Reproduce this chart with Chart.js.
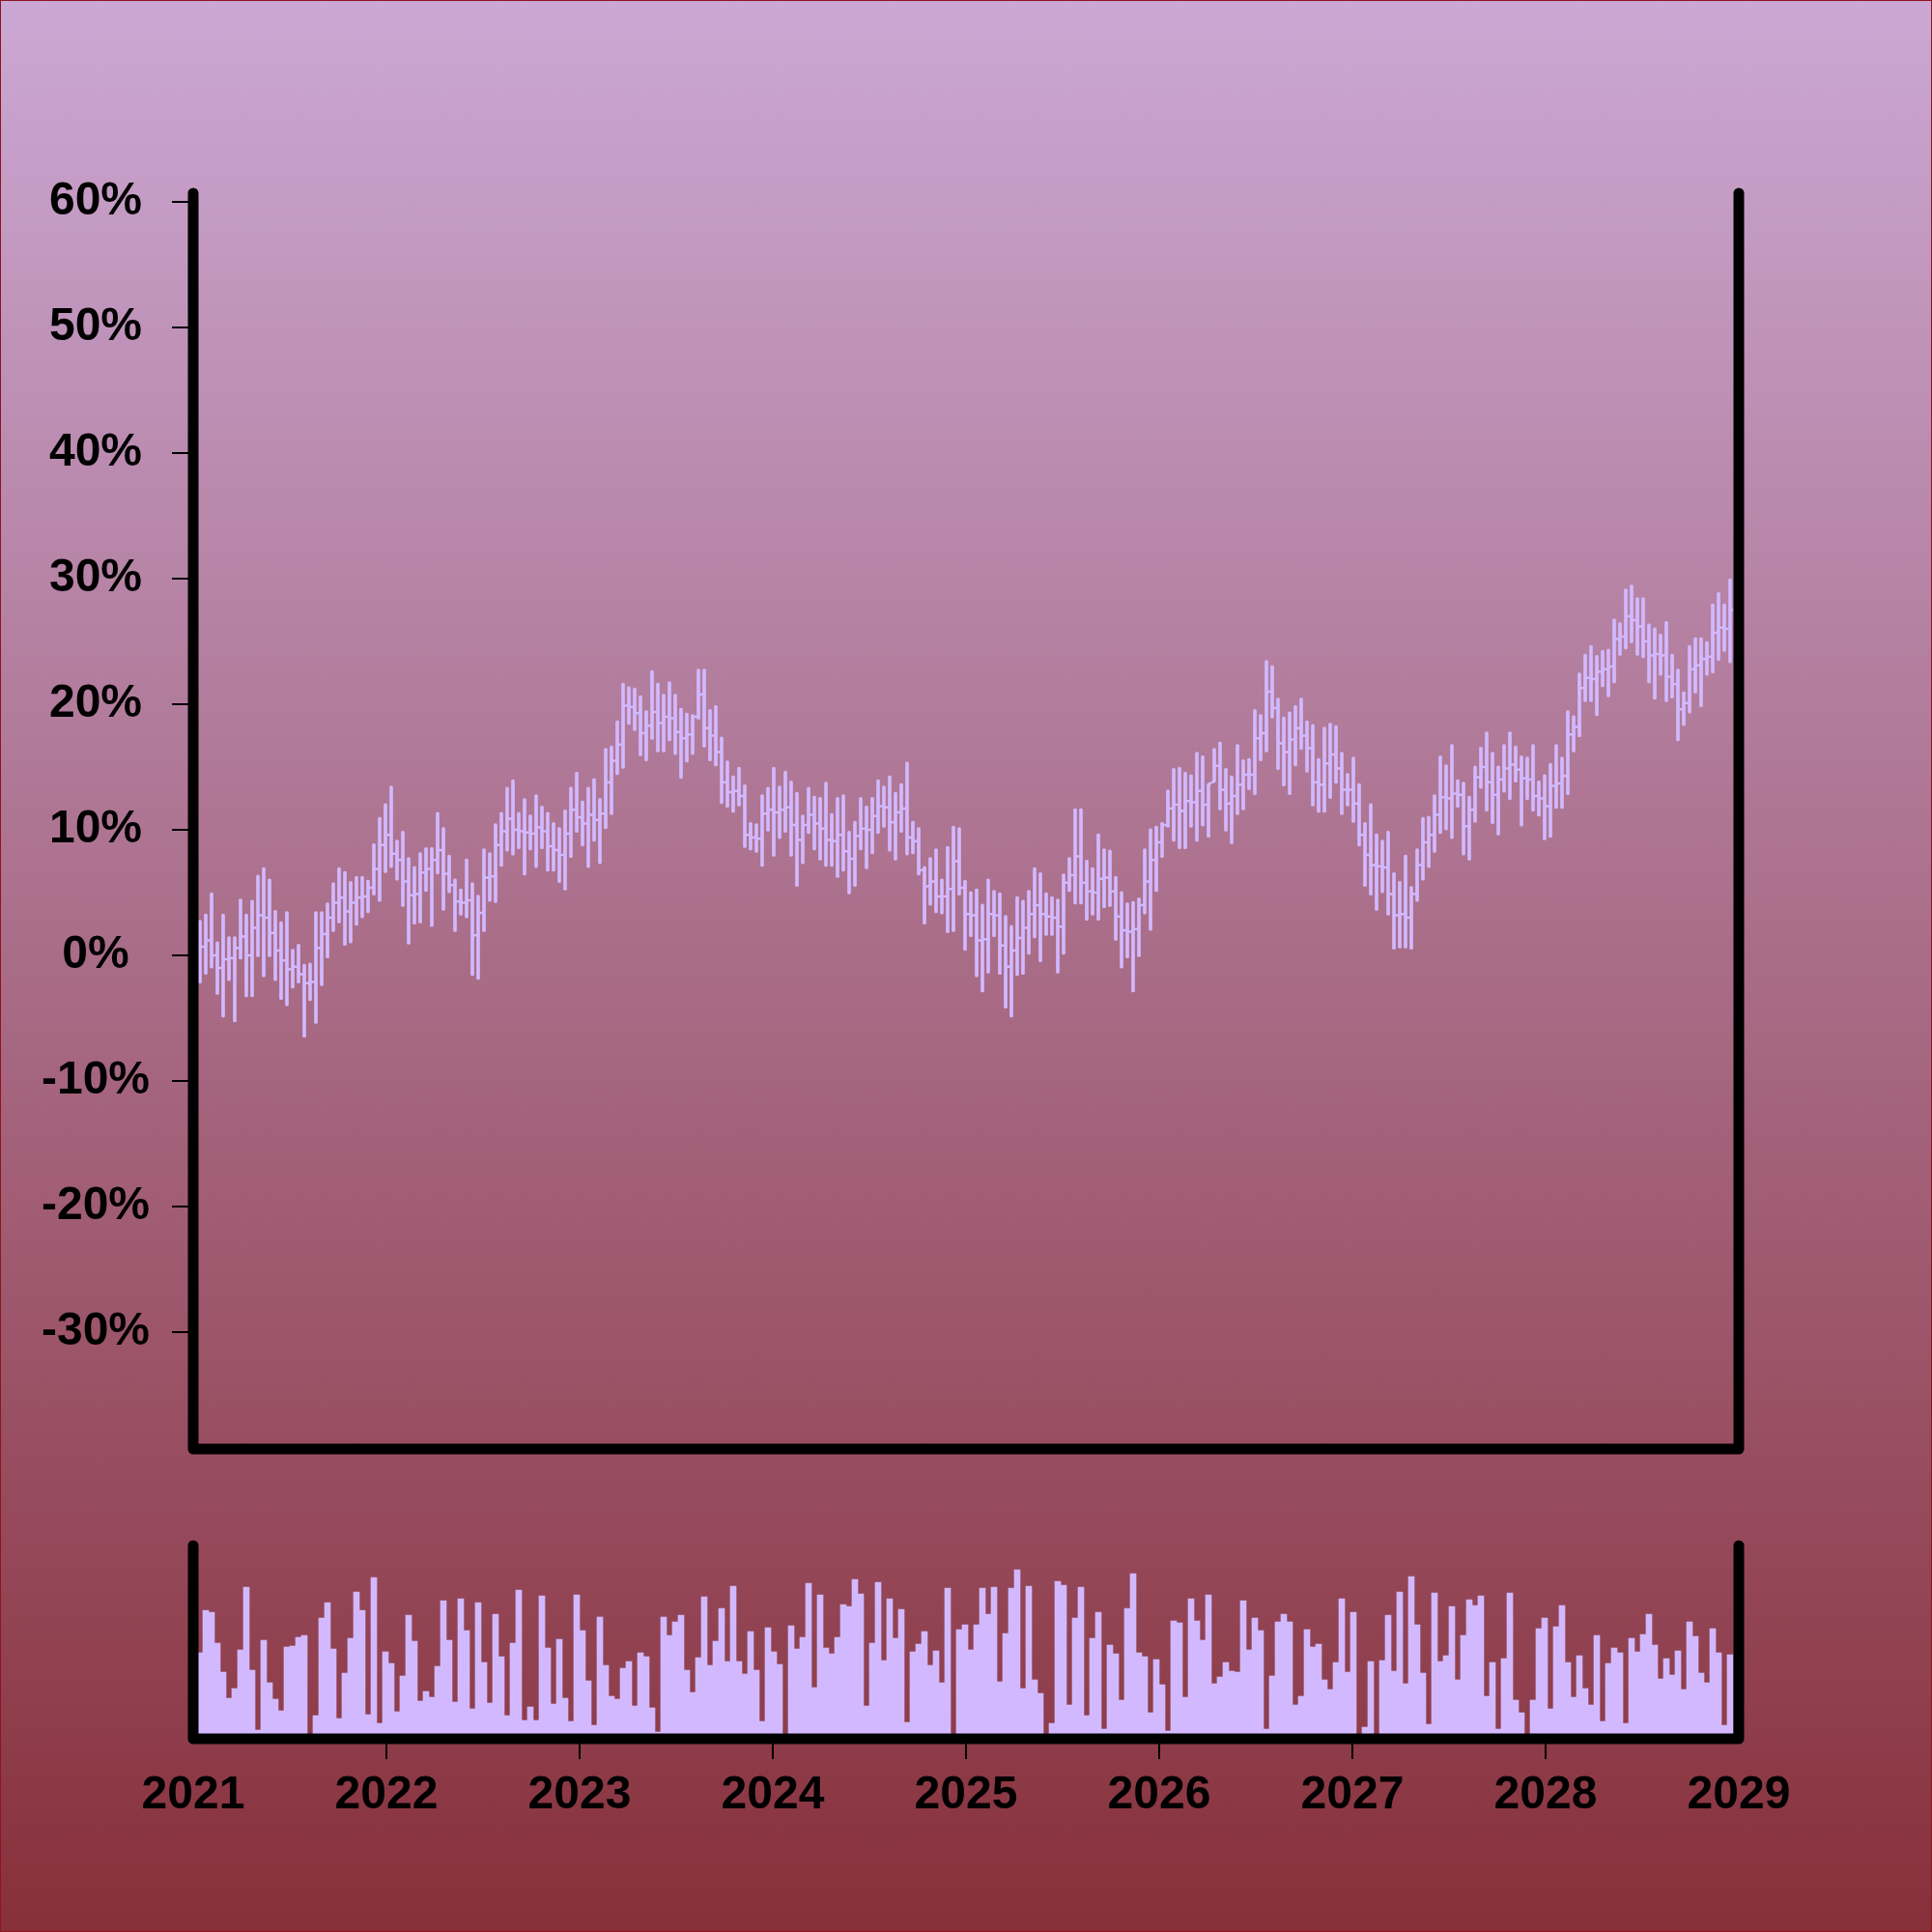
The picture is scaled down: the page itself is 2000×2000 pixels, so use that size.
<!DOCTYPE html>
<html>
<head>
<meta charset="utf-8">
<script src="https://cdn.jsdelivr.net/npm/chart.js@4.4.1/dist/chart.umd.min.js"></script>
<style>
  html, body { margin: 0; padding: 0; }
  #page {
    position: relative;
    width: 2000px;
    height: 2000px;
    overflow: hidden;
    background: linear-gradient(to bottom, #cba8d4 0%, #87303a 100%);
    box-shadow: inset 0 0 0 1px #8e1420;
  }
  #priceChart { position: absolute; left: 0; top: 0; }
  #volumeChart { position: absolute; left: 0; top: 1500px; }
</style>
</head>
<body>
<div id="page">
  <canvas id="priceChart" width="2000" height="1560"></canvas>
  <canvas id="volumeChart" width="2000" height="500"></canvas>
</div>
<script>
// sample dates: one bar every 0.03 year starting early 2021
const startYear = 2021.035;
const stepYears = 0.03;

const yearTicks = [2021, 2022, 2023, 2024, 2025, 2026, 2027, 2028, 2029];
const pctTicks = [-30, -20, -10, 0, 10, 20, 30, 40, 50, 60];

// OHLC values in %
const openVals = [
  0.5, 0.7, 1.2, 0.0, -1.0, -0.3, -0.2, 0.6, 1.5, 0.0,
  2.2, 3.2, 3.0, 1.8, 0.4, -0.4, -1.1, -0.9, -1.5, -2.2,
  -2.1, 0.6, 1.7, 3.0, 4.2, 4.6, 3.5, 4.2, 4.6, 4.7,
  5.4, 6.9, 8.8, 9.6, 8.1, 7.6, 5.9, 4.8, 4.9, 6.6,
  6.9, 7.6, 8.4, 6.5, 5.6, 4.3, 4.2, 4.4, 1.6, 3.4,
  6.2, 6.3, 8.8, 9.9, 10.9, 10.0, 9.9, 9.8, 9.7, 10.2,
  9.9, 8.7, 8.4, 8.0, 9.7, 11.6, 11.0, 10.5, 11.2, 10.8,
  11.3, 13.8, 15.5, 16.8, 19.9, 19.8, 19.3, 17.7, 18.3, 19.4,
  18.5, 19.0, 18.9, 17.8, 17.3, 17.6, 19.0, 20.8, 18.1, 17.5,
  16.2, 13.8, 13.0, 13.1, 12.7, 9.6, 9.4, 9.3, 11.3, 11.6,
  11.4, 11.6, 11.8, 10.4, 9.2, 10.4, 11.2, 10.5, 10.1, 9.2,
  9.1, 9.6, 8.3, 7.7, 9.5, 10.1, 10.0, 11.1, 11.9, 11.8,
  10.6, 11.4, 11.7, 9.4, 9.1, 6.8, 5.5, 5.9, 4.7, 4.7,
  5.3, 7.5, 5.4, 3.3, 3.2, 1.2, 1.3, 3.3, 3.2, 0.8,
  -0.9, 0.4, 1.4, 2.2, 3.3, 4.0, 3.3, 3.1, 3.0, 2.3,
  5.8, 6.4, 7.9, 5.8, 5.1, 5.0, 6.1, 6.2, 5.1, 3.1,
  2.0, 1.9, 2.1, 4.0, 5.9, 7.6, 9.0, 10.4, 11.7, 12.0,
  11.5, 12.3, 12.2, 13.1, 12.0, 13.8, 15.1, 13.2, 12.1, 12.7,
  13.6, 14.4, 14.4, 17.3, 17.7, 21.0, 19.7, 16.9, 16.2, 17.2,
  18.1, 17.5, 16.5, 13.8, 13.6, 15.3, 16.0, 14.9, 13.2, 13.2,
  12.1, 9.6, 8.0, 7.2, 7.1, 7.0, 4.9, 3.2, 3.3, 3.0,
  4.9, 7.2, 9.0, 9.6, 11.2, 12.6, 12.5, 12.9, 12.8, 10.3,
  11.6, 14.2, 15.0, 13.8, 12.8, 14.0, 14.9, 15.2, 14.8, 14.1,
  14.0, 12.7, 12.5, 11.9, 13.5, 13.7, 14.3, 17.6, 18.2, 21.3,
  22.1, 22.0, 22.6, 22.8, 23.0, 25.2, 25.4, 27.0, 26.7, 26.2,
  25.0, 23.9, 24.0, 23.9, 22.2, 21.6, 19.6, 20.1, 22.8, 23.1,
  23.6, 23.8, 25.7, 26.1, 26.0
];
const highVals = [
  2.8, 3.3, 5.0, 1.1, 3.3, 1.5, 1.5, 4.5, 3.3, 4.4,
  6.4, 7.0, 6.1, 3.6, 2.7, 3.5, 0.5, 0.9, -0.7, -0.6,
  3.5, 3.5, 4.2, 5.8, 7.0, 6.7, 5.9, 6.3, 6.3, 6.0,
  8.9, 11.0, 12.1, 13.5, 9.2, 9.9, 7.8, 7.1, 8.2, 8.6,
  8.6, 11.4, 10.2, 8.0, 6.1, 5.3, 7.7, 5.8, 4.8, 8.5,
  8.2, 10.5, 11.4, 13.4, 14.0, 11.4, 12.5, 11.2, 12.8, 11.9,
  11.4, 10.6, 10.2, 11.6, 13.4, 14.6, 12.3, 13.4, 14.1, 12.5,
  16.5, 16.7, 18.7, 21.7, 21.4, 21.3, 20.7, 19.5, 22.7, 21.7,
  20.8, 21.8, 20.8, 19.7, 19.3, 19.2, 22.8, 22.8, 19.6, 19.9,
  17.4, 15.5, 14.3, 15.0, 13.6, 10.6, 10.5, 12.8, 13.4, 15.0,
  13.5, 14.7, 13.9, 13.0, 11.2, 13.4, 12.7, 12.6, 13.8, 11.3,
  12.6, 12.8, 9.9, 10.7, 12.6, 11.9, 12.6, 14.0, 13.5, 14.3,
  13.0, 13.7, 15.4, 10.7, 10.2, 7.1, 7.8, 8.5, 6.1, 8.7,
  10.3, 10.2, 6.0, 5.1, 5.3, 4.1, 6.1, 5.2, 5.0, 3.2,
  2.4, 4.7, 4.4, 5.2, 7.0, 6.6, 5.0, 4.7, 4.5, 6.5,
  7.8, 11.7, 11.7, 7.6, 7.0, 9.7, 8.5, 8.4, 6.3, 5.1,
  4.2, 4.3, 4.6, 8.5, 10.1, 10.3, 10.6, 13.2, 14.9, 15.0,
  14.6, 14.4, 16.2, 15.9, 13.7, 16.5, 17.0, 14.9, 14.3, 16.8,
  15.6, 15.7, 19.6, 19.2, 23.5, 23.1, 20.5, 19.0, 19.4, 19.9,
  20.5, 18.7, 18.4, 15.7, 18.2, 18.5, 18.3, 16.2, 14.5, 15.8,
  13.7, 10.6, 12.1, 9.7, 9.2, 9.9, 6.6, 5.9, 8.0, 5.5,
  8.5, 11.0, 11.1, 12.8, 15.9, 15.2, 16.8, 14.0, 13.8, 12.7,
  15.1, 16.6, 17.8, 16.2, 15.1, 16.8, 17.8, 16.7, 15.9, 15.8,
  16.8, 13.9, 14.4, 15.3, 16.8, 15.8, 19.5, 19.1, 22.5, 24.0,
  24.7, 23.9, 24.3, 24.4, 26.8, 26.5, 29.2, 29.5, 28.5, 28.5,
  26.4, 26.1, 25.6, 26.6, 24.0, 22.8, 21.0, 24.7, 25.3, 25.3,
  25.0, 28.0, 28.9, 28.0, 30.0
];
const lowVals = [
  -2.2, -1.5, -1.0, -3.1, -4.9, -2.0, -5.3, -0.3, -3.3, -3.3,
  -0.1, -1.7, -0.1, -2.0, -3.5, -4.0, -2.6, -2.2, -6.5, -3.6,
  -5.4, -2.4, -0.2, 1.9, 2.6, 0.8, 1.0, 2.4, 3.0, 3.4,
  4.8, 4.3, 6.6, 7.0, 6.0, 3.9, 0.9, 2.5, 2.6, 5.1,
  2.3, 6.5, 3.6, 5.0, 1.9, 3.2, 3.0, -1.6, -1.9, 1.9,
  4.3, 4.2, 7.1, 8.3, 8.0, 8.5, 6.4, 8.4, 7.0, 8.5,
  6.7, 6.7, 5.8, 5.2, 7.8, 9.8, 8.7, 7.0, 9.1, 7.3,
  10.1, 11.2, 14.4, 14.9, 18.4, 17.9, 15.9, 15.5, 17.2, 16.2,
  16.2, 17.1, 16.0, 14.1, 15.4, 16.0, 18.8, 16.6, 15.5, 15.1,
  12.1, 11.8, 11.4, 11.9, 8.6, 8.4, 8.2, 7.1, 9.9, 7.9,
  9.3, 9.8, 7.9, 5.5, 7.3, 9.7, 8.4, 7.6, 7.1, 7.1,
  6.2, 6.7, 4.9, 5.5, 8.4, 6.9, 8.1, 9.7, 10.2, 8.3,
  7.6, 9.8, 8.0, 8.1, 6.4, 2.5, 4.0, 3.4, 3.3, 1.8,
  1.9, 4.8, 0.4, 1.5, -1.7, -2.9, -1.4, 1.5, -1.5, -4.2,
  -4.9, -1.6, -1.5, 0.1, 1.4, -0.5, 1.6, 1.6, -1.4, 0.1,
  5.1, 4.1, 4.1, 2.8, 3.2, 2.8, 3.8, 3.9, 1.2, -1.0,
  -0.2, -2.9, -0.1, 3.3, 2.0, 5.1, 7.8, 10.2, 9.1, 8.5,
  8.5, 10.2, 9.1, 10.3, 9.4, 13.8, 11.6, 9.9, 8.9, 11.2,
  11.6, 13.2, 12.8, 15.5, 16.2, 18.9, 14.8, 13.5, 12.8, 15.1,
  16.4, 14.6, 11.9, 11.4, 11.4, 12.5, 13.7, 11.2, 11.9, 10.6,
  8.7, 5.5, 4.8, 3.6, 5.0, 3.2, 0.5, 0.6, 0.6, 0.5,
  4.3, 6.0, 7.0, 8.2, 9.7, 10.0, 9.3, 11.8, 8.0, 7.6,
  10.6, 13.3, 11.5, 10.5, 9.6, 13.0, 12.4, 13.8, 10.3, 12.4,
  11.5, 11.1, 9.2, 9.4, 11.7, 11.7, 12.8, 16.2, 17.4, 20.2,
  20.2, 19.1, 21.4, 20.6, 21.7, 23.9, 24.4, 24.9, 23.9, 23.7,
  21.7, 20.4, 22.3, 20.2, 20.5, 17.1, 18.3, 19.3, 20.9, 19.8,
  22.3, 22.5, 23.5, 24.2, 23.3
];
const closeVals = [
  0.7, 1.2, 0.0, -1.0, -0.3, -0.2, 0.6, 1.5, 0.0, 2.2,
  3.2, 3.0, 1.8, 0.4, -0.4, -1.1, -0.9, -1.5, -2.2, -2.1,
  0.6, 1.7, 3.0, 4.2, 4.6, 3.5, 4.2, 4.6, 4.7, 5.4,
  6.9, 8.8, 9.6, 8.1, 7.6, 5.9, 4.8, 4.9, 6.6, 6.9,
  7.6, 8.4, 6.5, 5.6, 4.3, 4.2, 4.4, 1.6, 3.4, 6.2,
  6.3, 8.8, 9.9, 10.9, 10.0, 9.9, 9.8, 9.7, 10.2, 9.9,
  8.7, 8.4, 8.0, 9.7, 11.6, 11.0, 10.5, 11.2, 10.8, 11.3,
  13.8, 15.5, 16.8, 19.9, 19.8, 19.3, 17.7, 18.3, 19.4, 18.5,
  19.0, 18.9, 17.8, 17.3, 17.6, 19.0, 20.8, 18.1, 17.5, 16.2,
  13.8, 13.0, 13.1, 12.7, 9.6, 9.4, 9.3, 11.3, 11.6, 11.4,
  11.6, 11.8, 10.4, 9.2, 10.4, 11.2, 10.5, 10.1, 9.2, 9.1,
  9.6, 8.3, 7.7, 9.5, 10.1, 10.0, 11.1, 11.9, 11.8, 10.6,
  11.4, 11.7, 9.4, 9.1, 6.8, 5.5, 5.9, 4.7, 4.7, 5.3,
  7.5, 5.4, 3.3, 3.2, 1.2, 1.3, 3.3, 3.2, 0.8, -0.9,
  0.4, 1.4, 2.2, 3.3, 4.0, 3.3, 3.1, 3.0, 2.3, 5.8,
  6.4, 7.9, 5.8, 5.1, 5.0, 6.1, 6.2, 5.1, 3.1, 2.0,
  1.9, 2.1, 4.0, 5.9, 7.6, 9.0, 10.4, 11.7, 12.0, 11.5,
  12.3, 12.2, 13.1, 12.0, 13.7, 15.1, 13.2, 12.1, 12.7, 13.6,
  14.4, 14.4, 17.3, 17.7, 21.0, 19.7, 16.9, 16.2, 17.2, 18.1,
  17.5, 16.5, 13.8, 13.6, 15.3, 16.0, 14.9, 13.2, 13.2, 12.1,
  9.6, 8.0, 7.2, 7.1, 7.0, 4.9, 3.2, 3.3, 3.0, 4.9,
  7.2, 9.0, 9.6, 11.2, 12.6, 12.5, 12.9, 12.8, 10.3, 11.6,
  14.2, 15.0, 13.8, 12.8, 14.0, 14.9, 15.2, 14.8, 14.1, 14.0,
  12.7, 12.5, 11.9, 13.5, 13.7, 14.3, 17.6, 18.2, 21.3, 22.1,
  22.0, 22.6, 22.8, 23.0, 25.2, 25.4, 27.0, 26.7, 26.2, 25.0,
  23.9, 24.0, 23.9, 22.2, 21.6, 19.6, 20.1, 22.8, 23.1, 23.6,
  23.8, 25.7, 26.1, 26.0, 27.5
];
const volumeVals = [
  89, 133, 131, 99, 69, 42, 52, 92, 157, 71,
  9, 102, 58, 41, 29, 95, 96, 105, 107, 3,
  24, 125, 141, 93, 21, 68, 104, 152, 133, 25,
  167, 16, 90, 78, 28, 65, 128, 101, 39, 49,
  43, 75, 143, 102, 38, 145, 112, 31, 141, 79,
  37, 129, 85, 24, 99, 154, 19, 33, 19, 148,
  94, 36, 103, 42, 18, 149, 112, 60, 14, 126,
  76, 44, 41, 73, 80, 34, 89, 85, 32, 7,
  126, 107, 121, 128, 71, 48, 84, 147, 76, 101,
  135, 80, 158, 80, 67, 111, 71, 18, 115, 90,
  77, 3, 117, 93, 105, 161, 53, 149, 94, 88,
  105, 139, 137, 165, 150, 34, 99, 162, 81, 145,
  104, 134, 17, 90, 98, 111, 76, 91, 58, 156,
  3, 113, 118, 92, 118, 156, 129, 157, 59, 109,
  156, 175, 52, 158, 61, 47, 3, 16, 163, 159,
  35, 125, 157, 24, 104, 131, 10, 97, 88, 40,
  135, 171, 89, 85, 27, 82, 56, 8, 122, 120,
  43, 145, 122, 102, 149, 57, 64, 79, 70, 69,
  143, 92, 125, 112, 10, 65, 121, 129, 121, 35,
  44, 113, 95, 98, 61, 51, 79, 145, 69, 131,
  3, 12, 80, 3, 81, 128, 70, 152, 57, 168,
  118, 68, 15, 151, 80, 86, 137, 61, 107, 144,
  138, 148, 44, 79, 10, 83, 151, 40, 27, 3,
  40, 114, 125, 31, 116, 138, 79, 43, 86, 52,
  35, 107, 18, 78, 94, 89, 16, 104, 90, 108,
  129, 97, 62, 83, 66, 91, 51, 121, 106, 68,
  58, 114, 89, 14, 87
];

const barColor = '#d2b9ff';
const fontFamily = '"Liberation Sans", Arial, Helvetica, sans-serif';
const dates = highVals.map((_, i) => startYear + i * stepYears);

Chart.defaults.font.family = fontFamily;
Chart.defaults.font.weight = 'bold';
Chart.defaults.font.size = 48;
Chart.defaults.color = '#000';

// black frame (left, bottom, right) with round ends
const framePlugin = {
  id: 'frame',
  afterDatasetsDraw(chart) {
    const { ctx, chartArea: a } = chart;
    ctx.save();
    ctx.strokeStyle = '#000';
    ctx.lineWidth = 11;
    ctx.lineCap = 'round';
    ctx.lineJoin = 'round';
    ctx.beginPath();
    ctx.moveTo(a.left, a.top);
    ctx.lineTo(a.left, a.bottom);
    ctx.lineTo(a.right, a.bottom);
    ctx.lineTo(a.right, a.top);
    ctx.stroke();
    ctx.restore();
  }
};

// open tick on the left, close tick on the right of each high-low bar
const ohlcTicks = {
  id: 'ohlcTicks',
  afterDatasetsDraw(chart) {
    const meta = chart.getDatasetMeta(0);
    const yScale = chart.scales.y;
    const ctx = chart.ctx;
    const a = chart.chartArea;
    ctx.save();
    ctx.beginPath();
    ctx.rect(a.left, a.top, a.right - a.left, a.bottom - a.top);
    ctx.clip();
    ctx.strokeStyle = barColor;
    ctx.lineWidth = 2.5;
    meta.data.forEach((bar, i) => {
      const yo = yScale.getPixelForValue(openVals[i]);
      const yc = yScale.getPixelForValue(closeVals[i]);
      ctx.beginPath();
      ctx.moveTo(bar.x - 3, yo);
      ctx.lineTo(bar.x, yo);
      ctx.moveTo(bar.x, yc);
      ctx.lineTo(bar.x + 3, yc);
      ctx.stroke();
    });
    ctx.restore();
  }
};

new Chart(document.getElementById('priceChart'), {
  type: 'bar',
  data: {
    datasets: [{
      data: dates.map((d, i) => ({ x: d, y: [lowVals[i], highVals[i]] })),
      backgroundColor: barColor,
      borderWidth: 0,
      barThickness: 3,
      borderRadius: 1.5,
      borderSkipped: false,
      grouped: false
    }]
  },
  options: {
    responsive: false,
    animation: false,
    events: [],
    layout: { padding: { left: 0, right: 200, top: 200, bottom: 60 } },
    plugins: { legend: { display: false }, tooltip: { enabled: false } },
    scales: {
      x: {
        type: 'linear',
        min: 2021,
        max: 2029,
        offset: false,
        display: false
      },
      y: {
        type: 'linear',
        min: -39.3,
        max: 60.7,
        afterFit: (axis) => { axis.width = 200; },
        afterBuildTicks: (axis) => { axis.ticks = pctTicks.map(v => ({ value: v })); },
        border: { display: false },
        grid: {
          drawOnChartArea: false,
          drawTicks: true,
          tickLength: 22,
          lineWidth: 2,
          color: '#000'
        },
        ticks: {
          padding: 23,
          crossAlign: 'center',
          color: '#000',
          font: { size: 48, weight: 'bold', family: fontFamily },
          callback: (v) => v + '%'
        }
      }
    }
  },
  plugins: [ohlcTicks, framePlugin]
});

new Chart(document.getElementById('volumeChart'), {
  type: 'bar',
  data: {
    datasets: [{
      data: dates.map((d, i) => ({ x: d, y: volumeVals[i] })),
      backgroundColor: barColor,
      borderWidth: 0,
      barPercentage: 1,
      categoryPercentage: 1,
      grouped: false
    }]
  },
  options: {
    responsive: false,
    animation: false,
    events: [],
    layout: { padding: { left: 200, right: 200, top: 100, bottom: 0 } },
    plugins: { legend: { display: false }, tooltip: { enabled: false } },
    scales: {
      x: {
        type: 'linear',
        min: 2021,
        max: 2029,
        offset: false,
        afterFit: (axis) => { axis.height = 200; },
        afterBuildTicks: (axis) => { axis.ticks = yearTicks.map(v => ({ value: v })); },
        border: { display: false },
        grid: {
          offset: false,
          drawOnChartArea: false,
          drawTicks: true,
          tickLength: 21,
          lineWidth: 2,
          color: (c) => (c.index === 0 || c.index === yearTicks.length - 1) ? 'rgba(0,0,0,0)' : '#000'
        },
        ticks: {
          padding: 9,
          maxRotation: 0,
          autoSkip: false,
          color: '#000',
          font: { size: 48, weight: 'bold', family: fontFamily },
          callback: (v) => String(v)
        }
      },
      y: {
        type: 'linear',
        min: 0,
        max: 200,
        display: false
      }
    }
  },
  plugins: [framePlugin]
});
</script>
</body>
</html>
